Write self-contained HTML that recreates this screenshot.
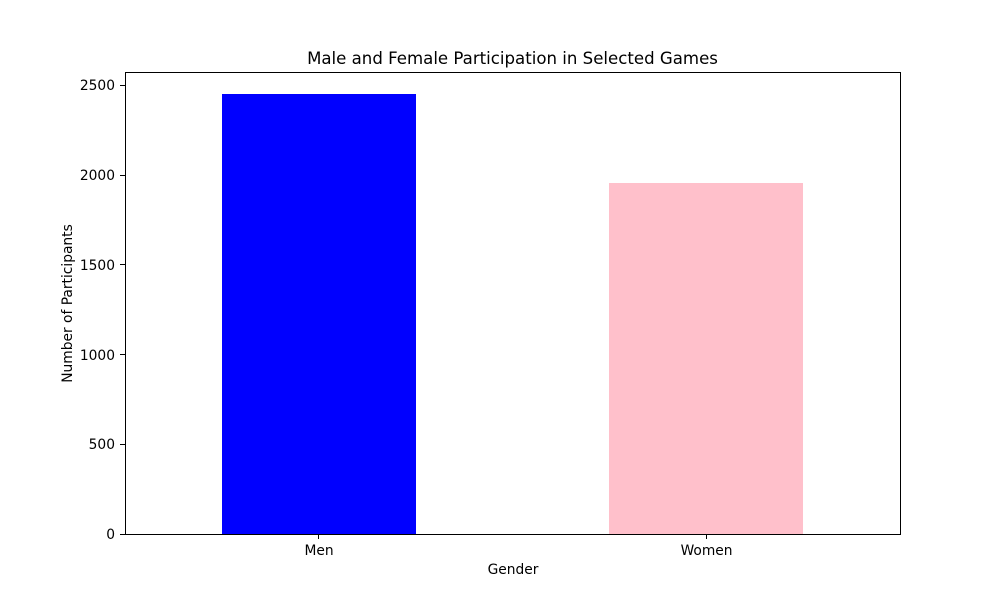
<!DOCTYPE html>
<html lang="en">
<head>
<meta charset="utf-8">
<title>Male and Female Participation in Selected Games</title>
<style>
html,body{margin:0;padding:0;background:#fff;width:1000px;height:600px;overflow:hidden}
svg{display:block}
text{font-family:"DejaVu Sans",sans-serif;fill:#000}
</style>
</head>
<body>
<svg id="chart" xmlns="http://www.w3.org/2000/svg" width="1000" height="600" viewBox="0 0 1000 600">
<rect x="0" y="0" width="1000" height="600" fill="#ffffff"/>
<text id="title" x="512.5" y="64" font-size="16.6" text-anchor="middle">Male and Female Participation in Selected Games</text>
<g id="bars"></g>
<g id="ticks"></g>
<rect x="125.5" y="72.5" width="775" height="462" fill="none" stroke="#000" stroke-width="1" shape-rendering="crispEdges"/>
<text x="513" y="574" font-size="13.8" text-anchor="middle">Gender</text>
<text transform="translate(72 303.5) rotate(-90)" font-size="13.8" text-anchor="middle">Number of Participants</text>
</svg>
<script>
const categories = ['Men', 'Women'];
const participants = [2452, 1956];
const barColors = ['#0000ff', '#ffc0cb'];
const yTicks = [0, 500, 1000, 1500, 2000, 2500];

const NS = 'http://www.w3.org/2000/svg';
const plot = { left: 125, right: 900, top: 72, bottom: 534 };
const yMax = Math.max.apply(null, participants) * 1.05;
const barWidth = 0.5;

function xScale(v) {
  return plot.left + (v + 0.5) / categories.length * (plot.right - plot.left);
}
function yScale(v) {
  return plot.bottom - v / yMax * (plot.bottom - plot.top);
}
function make(tag, attrs, parent) {
  const el = document.createElementNS(NS, tag);
  Object.keys(attrs).forEach(function (k) { el.setAttribute(k, attrs[k]); });
  parent.appendChild(el);
  return el;
}

const barsGroup = document.getElementById('bars');
const ticksGroup = document.getElementById('ticks');

categories.forEach(function (cat, i) {
  const x0 = Math.round(xScale(i - barWidth / 2));
  const x1 = Math.round(xScale(i + barWidth / 2));
  const top = Math.round(yScale(participants[i]));
  const bar = make('rect', { x: x0, y: top, width: x1 - x0, height: plot.bottom - top, fill: barColors[i] }, barsGroup);
  
  

  const cx = Math.floor(xScale(i)) + 0.5;
  const tick = make('line', { x1: cx, x2: cx, y1: plot.bottom + 0.5, y2: plot.bottom + 5, stroke: '#000', 'stroke-width': 1, 'shape-rendering': 'crispEdges' }, ticksGroup);
  
  

  const label = make('text', { x: xScale(i) + 0.3, y: 555, 'font-size': 13.8, 'text-anchor': 'middle' }, ticksGroup);
  label.textContent = cat;
  
  
});

yTicks.forEach(function (v) {
  const y = Math.floor(yScale(v)) + 0.5;
  const tick = make('line', { x1: plot.left - 5, x2: plot.left + 0.5, y1: y, y2: y, stroke: '#000', 'stroke-width': 1, 'shape-rendering': 'crispEdges' }, ticksGroup);
  
  

  const label = make('text', { x: plot.left - 10, y: Math.floor(yScale(v) + 5.5), 'font-size': 13.8, 'text-anchor': 'end' }, ticksGroup);
  label.textContent = String(v);
  
  
});
</script>
</body>
</html>
